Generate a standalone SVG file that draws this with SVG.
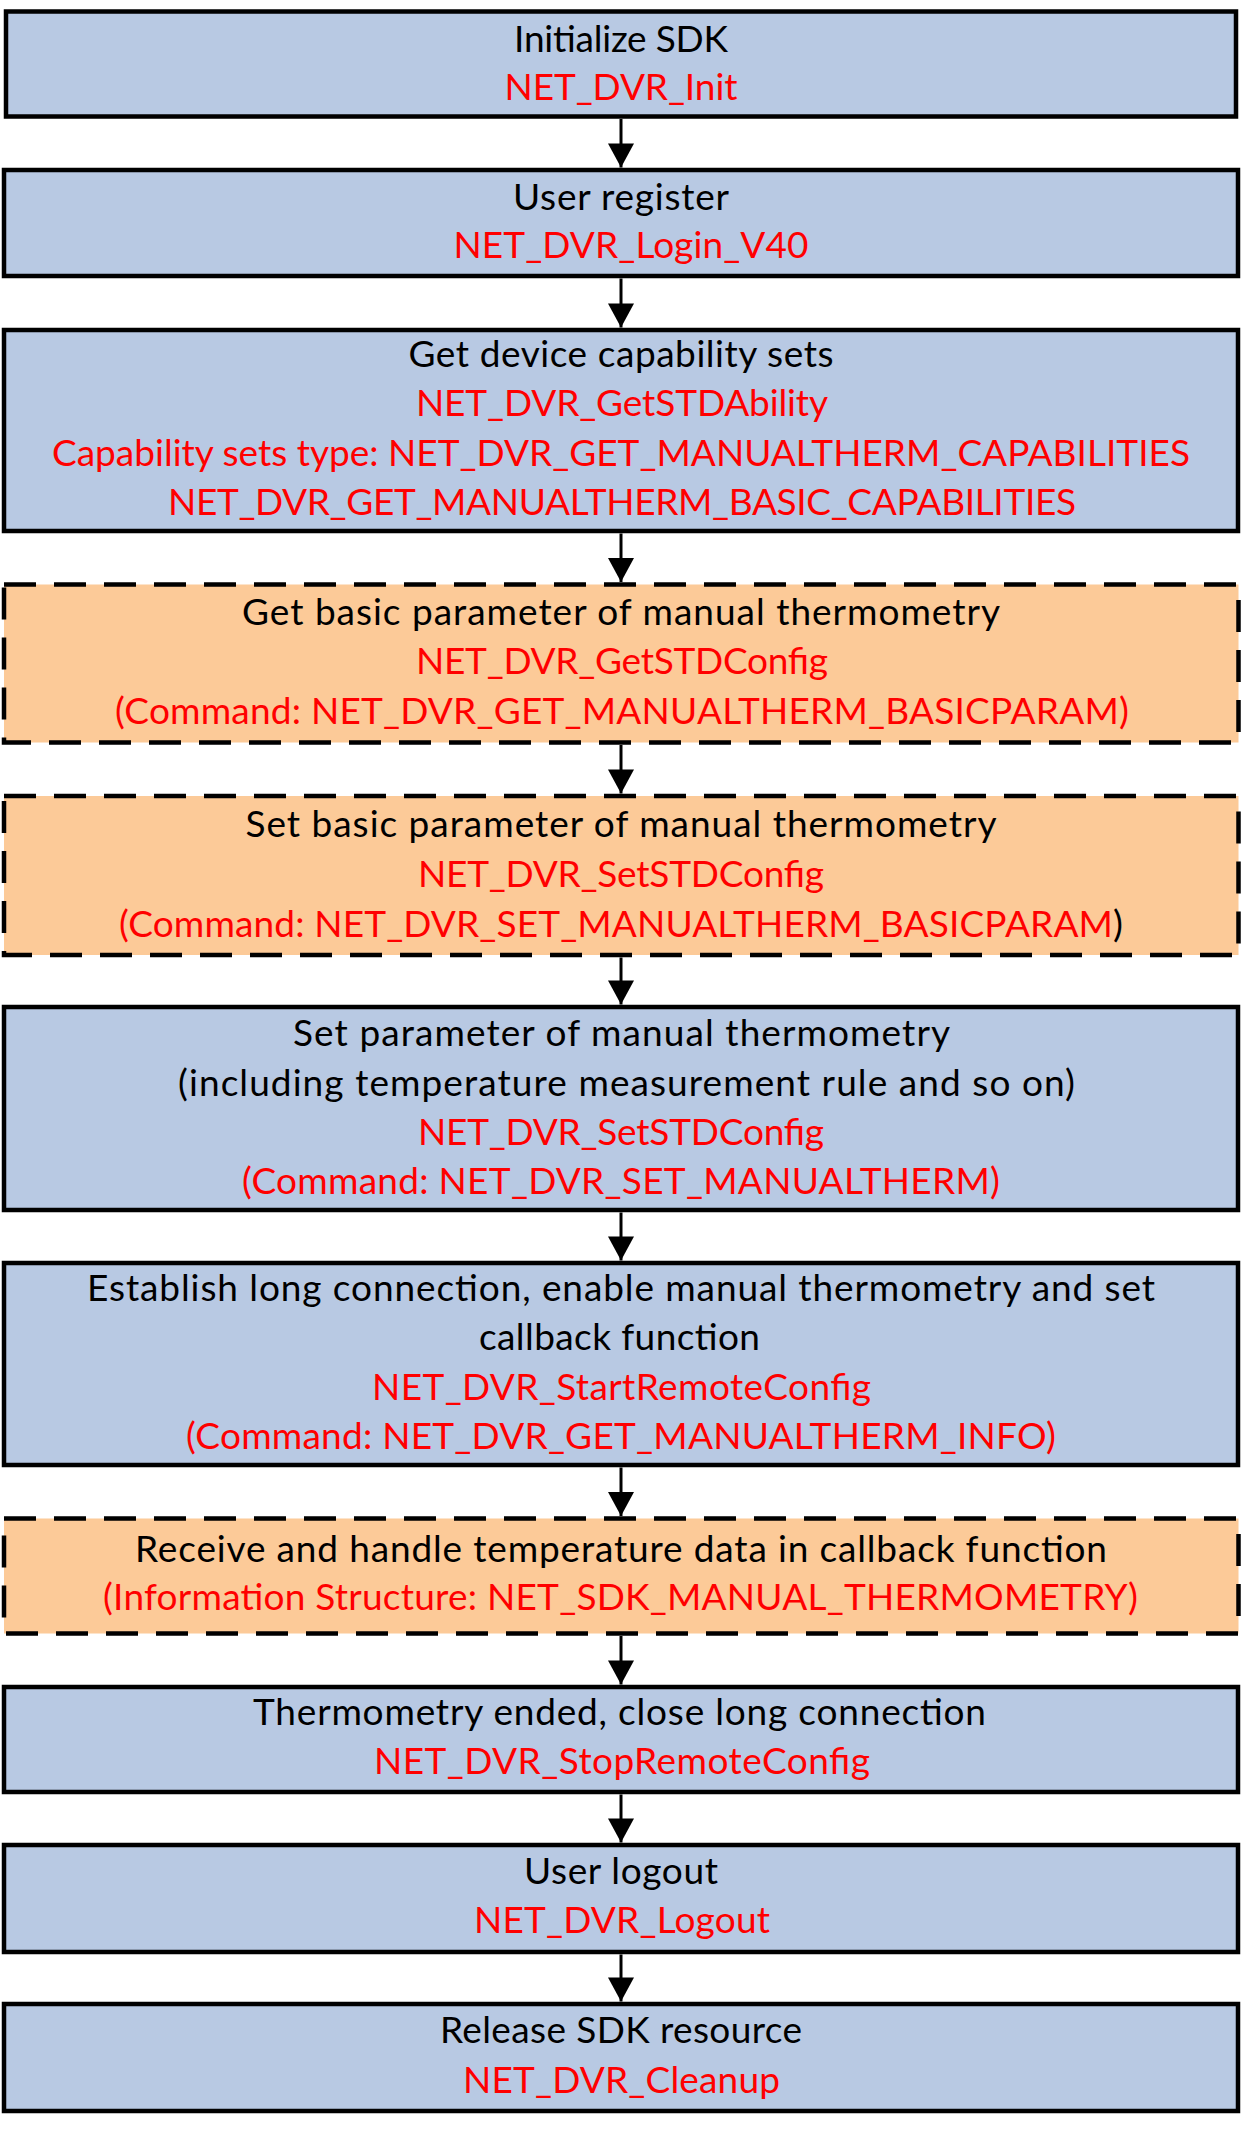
<svg xmlns="http://www.w3.org/2000/svg" width="1242" height="2130" viewBox="0 0 1242 2130">
<defs>
<style>
.blue{fill:#B8C9E3;stroke:#000;stroke-width:4.5}
.orange{fill:#FCCA98;stroke:#000;stroke-width:4.5;stroke-dasharray:32 18}
text{font-family:Lato,"Open Sans","Liberation Sans",sans-serif;font-size:37px;text-anchor:middle}
.k{fill:#000}
.r{fill:#FF0000}
.conn line{stroke:#000;stroke-width:3}
</style>
<marker id="ah" markerUnits="userSpaceOnUse" markerWidth="28" markerHeight="26" refX="25" refY="13.5" orient="auto" viewBox="0 0 25 27">
<path d="M0,0 L25,13.5 L0,27 Z" fill="#000"/>
</marker>
</defs>
<rect width="1242" height="2130" fill="#fff"/>

<g id="n1">
<rect class="blue" x="6" y="11.5" width="1230" height="105"/>
<text class="k" x="621" y="52" textLength="214">Initialize SDK</text>
<text class="r" x="621" y="100" textLength="233">NET_DVR_Init</text>
</g>

<g id="n2">
<rect class="blue" x="4" y="170" width="1234" height="106"/>
<text class="k" x="621" y="210" textLength="216">User register</text>
<text class="r" x="631" y="258" textLength="355">NET_DVR_Login_V40</text>
</g>

<g id="n3">
<rect class="blue" x="4" y="330" width="1234" height="201"/>
<text class="k" x="621" y="366.5" textLength="425">Get device capability sets</text>
<text class="r" x="622" y="416" textLength="412">NET_DVR_GetSTDAbility</text>
<text class="r" x="621" y="465.5" textLength="1138">Capability sets type: NET_DVR_GET_MANUALTHERM_CAPABILITIES</text>
<text class="r" x="622" y="515" textLength="908">NET_DVR_GET_MANUALTHERM_BASIC_CAPABILITIES</text>
</g>

<g id="n4">
<rect class="orange" x="4" y="584.5" width="1234.5" height="158"/>
<text class="k" x="621" y="625" textLength="758">Get basic parameter of manual thermometry</text>
<text class="r" x="622" y="674" textLength="412">NET_DVR_GetSTDConfig</text>
<text class="r" x="622" y="723.5" textLength="1014">(Command: NET_DVR_GET_MANUALTHERM_BASICPARAM)</text>
</g>

<g id="n5">
<rect class="orange" x="4" y="796" width="1234.5" height="159"/>
<text class="k" x="621" y="837" textLength="751">Set basic parameter of manual thermometry</text>
<text class="r" x="621" y="886.5" textLength="406">NET_DVR_SetSTDConfig</text>
<text class="r" x="621" y="936.5" textLength="1004">(Command: NET_DVR_SET_MANUALTHERM_BASICPARAM<tspan class="k">)</tspan></text>
</g>

<g id="n6">
<rect class="blue" x="4" y="1007" width="1234" height="203"/>
<text class="k" x="621.5" y="1046" textLength="657">Set parameter of manual thermometry</text>
<text class="k" x="626.5" y="1095.5" textLength="897">(including temperature measurement rule and so on)</text>
<text class="r" x="621" y="1145" textLength="406">NET_DVR_SetSTDConfig</text>
<text class="r" x="621" y="1194" textLength="758">(Command: NET_DVR_SET_MANUALTHERM)</text>
</g>

<g id="n7">
<rect class="blue" x="4" y="1263" width="1234" height="202"/>
<text class="k" x="621" y="1300.5" textLength="1068">Establish long connection, enable manual thermometry and set</text>
<text class="k" x="619.5" y="1350" textLength="281">callback function</text>
<text class="r" x="621.5" y="1399.5" textLength="499">NET_DVR_StartRemoteConfig</text>
<text class="r" x="621" y="1448.5" textLength="870">(Command: NET_DVR_GET_MANUALTHERM_INFO)</text>
</g>

<g id="n8">
<rect class="orange" x="4" y="1518.5" width="1234.5" height="115"/>
<text class="k" x="621" y="1561.5" textLength="972">Receive and handle temperature data in callback function</text>
<text class="r" x="620.5" y="1610" textLength="1035">(Information Structure: NET_SDK_MANUAL_THERMOMETRY)</text>
</g>

<g id="n9">
<rect class="blue" x="4" y="1687" width="1234" height="105"/>
<text class="k" x="619.5" y="1725" textLength="733">Thermometry ended, close long connection</text>
<text class="r" x="622" y="1774" textLength="496">NET_DVR_StopRemoteConfig</text>
</g>

<g id="n10">
<rect class="blue" x="4" y="1845" width="1234" height="107"/>
<text class="k" x="621" y="1883.5" textLength="194">User logout</text>
<text class="r" x="622" y="1933" textLength="296">NET_DVR_Logout</text>
</g>

<g id="n11">
<rect class="blue" x="4" y="2004" width="1234" height="107"/>
<text class="k" x="621" y="2043" textLength="362">Release SDK resource</text>
<text class="r" x="621.5" y="2093" textLength="317">NET_DVR_Cleanup</text>
</g>

<g id="connectors" class="conn">
<line x1="621" y1="119" x2="621" y2="167.5" marker-end="url(#ah)"/>
<line x1="621" y1="278.5" x2="621" y2="327.5" marker-end="url(#ah)"/>
<line x1="621" y1="533.5" x2="621" y2="582" marker-end="url(#ah)"/>
<line x1="621" y1="745" x2="621" y2="793.5" marker-end="url(#ah)"/>
<line x1="621" y1="957.5" x2="621" y2="1004.5" marker-end="url(#ah)"/>
<line x1="621" y1="1212.5" x2="621" y2="1260.5" marker-end="url(#ah)"/>
<line x1="621" y1="1467.5" x2="621" y2="1516" marker-end="url(#ah)"/>
<line x1="621" y1="1636" x2="621" y2="1684.5" marker-end="url(#ah)"/>
<line x1="621" y1="1794.5" x2="621" y2="1842.5" marker-end="url(#ah)"/>
<line x1="621" y1="1954.5" x2="621" y2="2001.5" marker-end="url(#ah)"/>
</g>
</svg>
